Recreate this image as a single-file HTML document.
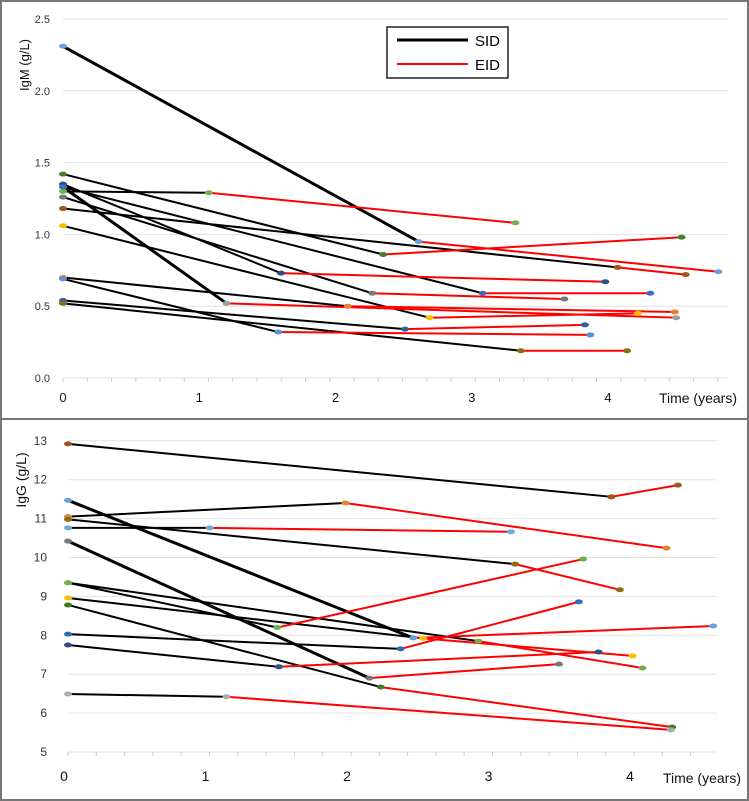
<!DOCTYPE html>
<html><head><meta charset="utf-8"><style>
html,body{margin:0;padding:0;background:#fff;}
svg{display:block;font-family:"Liberation Sans",sans-serif;}
</style></head><body>
<svg id="c" width="749" height="801" viewBox="0 0 749 801">
<rect x="1" y="1" width="747" height="799" fill="#fff" stroke="#777" stroke-width="2"/>
<line x1="0" y1="419" x2="749" y2="419" stroke="#777" stroke-width="2"/>
<g id="top"></g>
<g id="bot"></g>
<g>
<rect x="387" y="27" width="121" height="51" fill="#fff" stroke="#222" stroke-width="1.5"/>
<line x1="397" y1="40" x2="468" y2="40" stroke="#000" stroke-width="3"/>
<text x="475" y="46" font-size="15" fill="#000">SID</text>
<line x1="397" y1="64" x2="468" y2="64" stroke="#f00" stroke-width="2"/>
<text x="475" y="70" font-size="15" fill="#000">EID</text>
</g>
<text transform="translate(29,65) rotate(-90)" text-anchor="middle" font-size="13" fill="#111">IgM (g/L)</text>
<text transform="translate(26,480) rotate(-90)" text-anchor="middle" font-size="14" fill="#111">IgG (g/L)</text>
<text x="737" y="403" text-anchor="end" font-size="14" fill="#111">Time (years)</text>
<text x="741" y="783" text-anchor="end" font-size="14" fill="#111">Time (years)</text>
</svg>
<script>
// ---- IgM panel data ----
const igmYTicks = [0, 0.5, 1.0, 1.5, 2.0, 2.5];
const igmXTicks = [0, 1, 2, 3, 4];
// each patient: start value at t=0, SID end (time,value), EID end (time,value)
const igmStartY = [2.31, 1.42, 1.35, 1.33, 1.30, 1.26, 1.18, 1.06, 1.33, 0.70, 0.69, 0.54, 0.52];
const igmMidX   = [2.61, 2.35, 1.60, 1.20, 1.07, 2.27, 4.07, 2.69, 3.08, 2.09, 1.58, 2.51, 3.36];
const igmMidY   = [0.95, 0.86, 0.73, 0.52, 1.29, 0.59, 0.77, 0.42, 0.59, 0.50, 0.32, 0.34, 0.19];
const igmEndX   = [4.81, 4.54, 3.98, 4.50, 3.32, 3.68, 4.57, 4.22, 4.31, 4.49, 3.87, 3.83, 4.14];
const igmEndY   = [0.74, 0.98, 0.67, 0.42, 1.08, 0.55, 0.72, 0.45, 0.59, 0.46, 0.30, 0.37, 0.19];
const igmThick  = [1, 0, 0, 1, 0, 0, 0, 0, 0, 0, 0, 0, 0];
const igmColors = ['#6a9fdc','#4a7a2e','#2c4f8a','#9e9e9e','#6fb04a','#777','#a0521a','#f6c000','#3a6fbf','#e87f2e','#5b8fd6','#2e5f9e','#8a6d12'];
// ---- IgG panel data ----
const iggYTicks = [5, 6, 7, 8, 9, 10, 11, 12, 13];
const iggXTicks = [0, 1, 2, 3, 4];
const iggStartY = [12.92, 11.47, 11.05, 10.98, 10.76, 10.42, 9.35, 9.35, 8.96, 8.78, 8.03, 7.75, 6.49];
const iggMidX   = [3.84, 2.44, 1.96, 3.16, 1.00, 2.13, 1.48, 2.90, 2.51, 2.21, 2.35, 1.49, 1.12];
const iggMidY   = [11.56, 7.93, 11.40, 9.83, 10.76, 6.90, 8.20, 7.85, 7.92, 6.67, 7.65, 7.19, 6.42];
const iggEndX   = [4.31, 4.56, 4.23, 3.90, 3.13, 3.47, 3.64, 4.06, 3.99, 4.27, 3.61, 3.75, 4.26];
const iggEndY   = [11.86, 8.24, 10.24, 9.17, 10.66, 7.26, 9.96, 7.16, 7.47, 5.64, 8.86, 7.57, 5.57];
const iggThick  = [0, 1, 0, 0, 0, 1, 0, 0, 0, 0, 0, 0, 0];
const iggColors = ['#a0521a','#6a9fdc','#e87f2e','#8a6d12','#6aaee0','#777','#6fb04a','#6fb04a','#f6c000','#3f7a2a','#2e6fb0','#2c4f8a','#aaa'];

const NS = 'http://www.w3.org/2000/svg';
function mk(parent, tag, attrs){const e=document.createElementNS(NS,tag);for(const k in attrs)e.setAttribute(k,attrs[k]);parent.appendChild(e);return e;}

function drawPanel(g, cfg){
  const X = v => cfg.x0 + v*cfg.xs;
  const Y = v => cfg.y0 - (v-cfg.yMin)*cfg.ys;
  cfg.yTicks.forEach(t=>{
    const l = mk(g,'line',{x1:X(0),x2:cfg.gridEnd,y1:Y(t),y2:Y(t),stroke:'#e2e2e2','stroke-width':1});
    
    
    const tx = mk(g,'text',{x:cfg.yLabX,y:Y(t)+4,'text-anchor':'end','font-size':cfg.fs,fill:'#333'});
    tx.textContent = cfg.yFmt(t);
    
    
  });
  for(let v=0; X(v)<=cfg.gridEnd+1; v+=cfg.minor){
    const m = mk(g,'line',{x1:X(v),x2:X(v),y1:Y(cfg.yMin),y2:Y(cfg.yMin)+4,stroke:'#ccc','stroke-width':1});
    
    
  }
  cfg.xTicks.forEach(t=>{
    const tx = mk(g,'text',{x:X(t)+cfg.xLabOff,y:cfg.xLabY,'text-anchor':'middle','font-size':cfg.fs+2,fill:'#111'});
    tx.textContent = String(t);
    
    
  });
  const n = cfg.start.length;
  for(let i=0;i<n;i++){
    const s = mk(g,'line',{x1:X(0),y1:Y(cfg.start[i]),x2:X(cfg.midX[i]),y2:Y(cfg.midY[i]),stroke:'#000','stroke-width':cfg.thick[i]?3:2});
    
    
  }
  for(let i=0;i<n;i++){
    const r = mk(g,'line',{x1:X(cfg.midX[i]),y1:Y(cfg.midY[i]),x2:X(cfg.endX[i]),y2:Y(cfg.endY[i]),stroke:'#f00','stroke-width':2});
    
    
  }
  for(let i=0;i<n;i++){
    [[0,cfg.start[i]],[cfg.midX[i],cfg.midY[i]],[cfg.endX[i],cfg.endY[i]]].forEach(p=>{
      const d = mk(g,'ellipse',{cx:X(p[0]),cy:Y(p[1]),rx:4,ry:2.5,fill:cfg.colors[i]});
      
      
    });
  }
}
drawPanel(document.getElementById('top'),{x0:63,xs:136.25,y0:378,ys:143.6,yMin:0,gridEnd:728,
  yTicks:igmYTicks,xTicks:igmXTicks,yLabX:50,xLabY:402,xLabOff:0,fs:11,minor:0.178,yFmt:t=>t.toFixed(1),
  start:igmStartY,midX:igmMidX,midY:igmMidY,endX:igmEndX,endY:igmEndY,thick:igmThick,colors:igmColors});
drawPanel(document.getElementById('bot'),{x0:68,xs:141.5,y0:752,ys:38.9,yMin:5,gridEnd:717,
  yTicks:iggYTicks,xTicks:iggXTicks,yLabX:47,xLabY:781,xLabOff:-4,fs:12,minor:0.2,yFmt:t=>String(t),
  start:iggStartY,midX:iggMidX,midY:iggMidY,endX:iggEndX,endY:iggEndY,thick:iggThick,colors:iggColors});
</script>
</body></html>
